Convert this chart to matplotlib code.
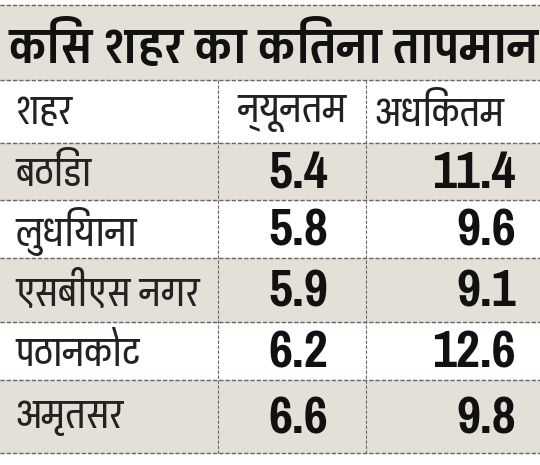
import matplotlib
matplotlib.use("Agg")
import matplotlib.pyplot as plt

title = "किस शहर का कितना तापमान"
headers = ["शहर", "न्यूनतम", "अधिकतम"]
cities = ["बठिंडा", "लुधियाना", "एसबीएस नगर", "पठानकोट", "अमृतसर"]
min_temp = [5.4, 5.8, 5.9, 6.2, 6.6]
max_temp = [11.4, 9.6, 9.1, 12.6, 9.8]

# row boundaries in pixels (top -> bottom)
lines_y = [5, 80, 143, 200, 258, 322, 380, 453]
col_x = [218, 366]
beige = "#e4dfd7"
hindi = ["Pragati Narrow", "Noto Sans Devanagari", "DejaVu Sans"]
nums = ["Pragati Narrow", "DejaVu Sans"]

fig = plt.figure(figsize=(5.4, 4.65), dpi=100)
ax = fig.add_axes([0, 0, 1, 1])
ax.set_xlim(0, 540)
ax.set_ylim(465, 0)
ax.axis("off")

# shaded bands: title, rows 1, 3, 5
for i in [0, 2, 4, 6]:
    ax.axhspan(lines_y[i], lines_y[i + 1], color=beige, zorder=0)

for y in lines_y:
    ax.axhline(y, color="#666666", lw=1, ls=(0, (3, 1.5)), zorder=2)
for x in col_x:
    ax.plot([x, x], [lines_y[1], lines_y[-1]], color="#666666", lw=0.8,
            ls=(0, (3, 1.5)), zorder=2)

ax.text(8, (lines_y[0] + lines_y[1]) / 2 + 3, title, family=hindi,
        fontweight="bold", fontsize=38, va="center", ha="left", color="#111111")

hy = (lines_y[1] + lines_y[2]) / 2 + 2
ax.text(15, hy, headers[0], family=hindi, fontsize=31, va="center", color="#222222")
ax.text(347, hy, headers[1], family=hindi, fontsize=31, va="center", ha="right", color="#222222")
ax.text(374, hy, headers[2], family=hindi, fontsize=31, va="center", ha="left", color="#222222")

for i, city in enumerate(cities):
    yc = (lines_y[i + 2] + lines_y[i + 3]) / 2 + 2
    ax.text(15, yc, city, family=hindi, fontsize=31, va="center", color="#222222")
    ax.text(328, yc, "%.1f" % min_temp[i], family=nums, fontweight="bold",
            fontsize=41, va="center", ha="right", color="#111111")
    ax.text(516, yc, "%.1f" % max_temp[i], family=nums, fontweight="bold",
            fontsize=41, va="center", ha="right", color="#111111")

fig.savefig("out.png", dpi=100)
